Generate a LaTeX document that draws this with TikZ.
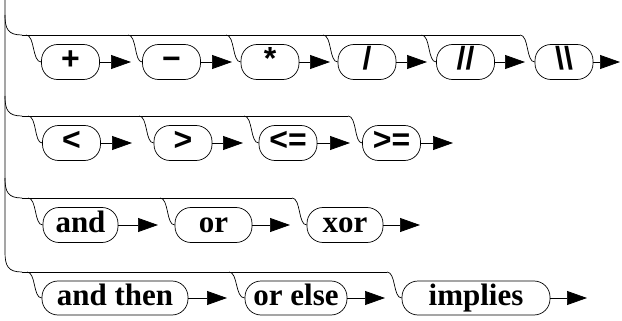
\documentclass[tikz,border=0pt]{standalone}
\usepackage{fontspec}
\setmainfont{Liberation Serif}
\newfontfamily\symfont{Liberation Sans}
\usepackage{tikz}
\usetikzlibrary{arrows.meta,calc}
\tikzset{
  opbox/.style={draw, line width=0.7pt, rounded corners=16pt, minimum height=35pt,
    minimum width=58pt, inner sep=0pt, text height=22pt, text depth=7pt,
    font=\symfont\bfseries\fontsize{32}{34}\selectfont},
  wordbox/.style={opbox, font=\bfseries\fontsize{31}{34}\selectfont},
  flow/.style={line width=0.7pt, -{Triangle[length=20pt,width=14pt]}},
  rail/.style={line width=0.7pt}
}
\begin{document}
\begin{tikzpicture}[x=1pt, y=-1pt]
        \useasboundingbox (0,0) rectangle (622,321);
        % row 1
        \node[opbox] (plus) at (70.5,62) {+};
        \node[opbox] (minus) at (171.5,62) {−};
        \node[opbox] (times) at (270,62) {*};
        \node[opbox] (div) at (367,62) {/};
        \node[opbox] (idiv) at (465.5,62) {//};
        \node[opbox] (mod) at (564,62) {\textbackslash\textbackslash};
        % row 2
        \node[opbox] (lt) at (71.5,143) {<};
        \node[opbox] (gt) at (183,143) {>};
        \node[opbox] (le) at (288,143) {<=};
        \node[opbox] (ge) at (391.5,143) {>=};
        % row 3
        \node[wordbox, minimum width=75pt] (and) at (80.5,225) {and};
        \node[wordbox, minimum width=77pt] (or) at (213.5,225) {or};
        \node[wordbox, minimum width=76pt] (xor) at (345,225) {xor};
        % row 4
        \node[wordbox, minimum width=146pt, minimum height=34pt] (andthen) at (115,298) {and then};
        \node[wordbox, minimum width=102pt, minimum height=34pt] (orelse) at (296,298) {or else};
        \node[wordbox, minimum width=148pt, minimum height=34pt] (implies) at (476,298) {implies};

        % arrow tips
        \coordinate (t1) at (131,62);
        \coordinate (t2) at (232,62);
        \coordinate (t3) at (330,62);
        \coordinate (t4) at (427,62);
        \coordinate (t5) at (525,62);
        \coordinate (t6) at (620,62);
        \coordinate (t7) at (132,143);
        \coordinate (t8) at (243,143);
        \coordinate (t9) at (350,143);
        \coordinate (t10) at (453,143);
        \coordinate (t11) at (158,225);
        \coordinate (t12) at (290,225);
        \coordinate (t13) at (420,225);
        \coordinate (t14) at (227,298);
        \coordinate (t15) at (385,298);
        \coordinate (t16) at (587,298);

        % rails
        \coordinate (r1) at (22,35);
        \coordinate (r2) at (22,116);
        \coordinate (r3) at (22,198);
        \coordinate (r4) at (22,272);
        \draw[rail] (5,0) -- (5,252) .. controls (5,266) and (8,272) .. (r4);
        \draw[rail] (5,15) .. controls (5,29) and (8,35) .. (r1);
        \draw[rail] (5,96) .. controls (5,110) and (8,116) .. (r2);
        \draw[rail] (5,178) .. controls (5,192) and (8,198) .. (r3);
        \draw[rail] (r1) -- (520,35);
        \draw[rail] (r2) -- (348,116);
        \draw[rail] (r3) -- (292,198);
        \draw[rail] (r4) -- (387,272);

        % branches down to the boxes
        \foreach \xs/\n in {26/plus, 128/minus, 226/times, 323/div, 421.5/idiv, 520/mod}
          \draw[rail] (\xs,35) .. controls (\xs+9,35) and (\xs+6,62) .. (\n.west);
        \foreach \xs/\n in {28/lt, 139/gt, 244/le, 348/ge}
          \draw[rail] (\xs,116) .. controls (\xs+9,116) and (\xs+6,143) .. (\n.west);
        \foreach \xs/\n in {28/and, 160/or, 292/xor}
          \draw[rail] (\xs,198) .. controls (\xs+9,198) and (\xs+6,225) .. (\n.west);
        \foreach \xs/\n in {27/andthen, 229/orelse, 387/implies}
          \draw[rail] (\xs,272) .. controls (\xs+9,272) and (\xs+6,298) .. (\n.west);

        % arrows
        \draw[flow] (plus) -- (t1);
        \draw[flow] (minus) -- (t2);
        \draw[flow] (times) -- (t3);
        \draw[flow] (div) -- (t4);
        \draw[flow] (idiv) -- (t5);
        \draw[flow] (mod) -- (t6);
        \draw[flow] (lt) -- (t7);
        \draw[flow] (gt) -- (t8);
        \draw[flow] (le) -- (t9);
        \draw[flow] (ge) -- (t10);
        \draw[flow] (and) -- (t11);
        \draw[flow] (or) -- (t12);
        \draw[flow] (xor) -- (t13);
        \draw[flow] (andthen) -- (t14);
        \draw[flow] (orelse) -- (t15);
        \draw[flow] (implies) -- (t16);
\end{tikzpicture}
\end{document}
